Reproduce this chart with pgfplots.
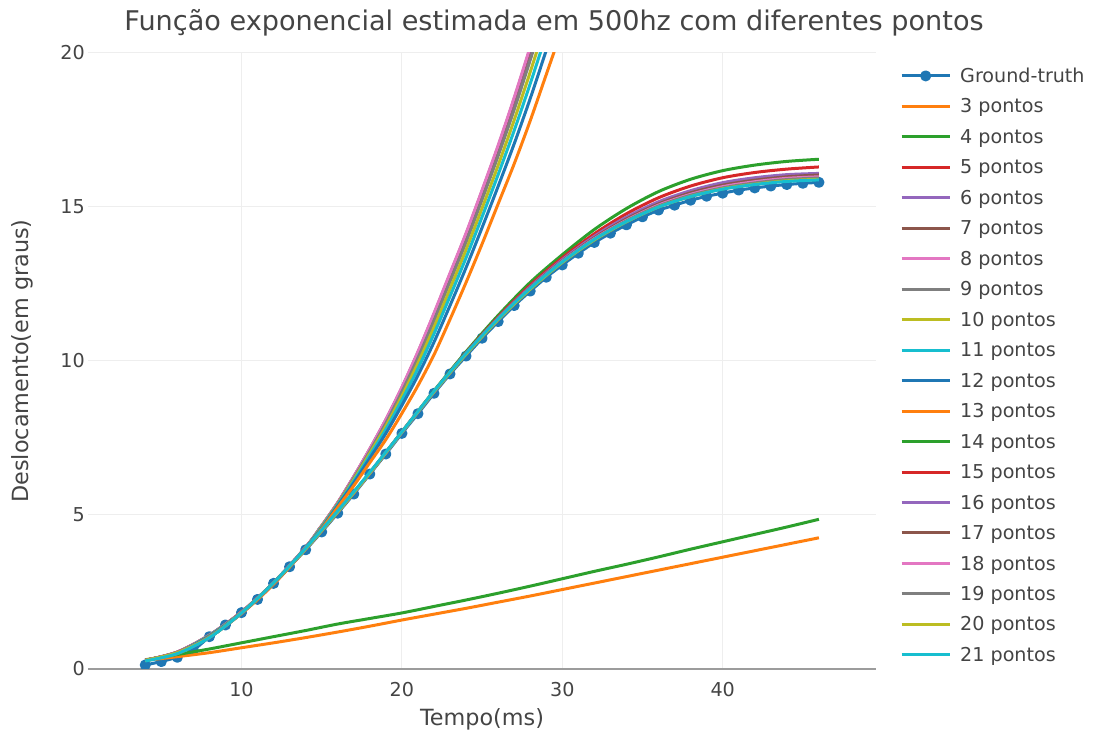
\documentclass[border=0pt]{standalone}
\usepackage{fontspec}
\setmainfont{DejaVu Sans}
\usepackage{pgfplots}
\pgfplotsset{compat=1.18}

\definecolor{c0}{HTML}{1F77B4}
\definecolor{c1}{HTML}{FF7F0E}
\definecolor{c2}{HTML}{2CA02C}
\definecolor{c3}{HTML}{D62728}
\definecolor{c4}{HTML}{9467BD}
\definecolor{c5}{HTML}{8C564B}
\definecolor{c6}{HTML}{E377C2}
\definecolor{c7}{HTML}{7F7F7F}
\definecolor{c8}{HTML}{BCBD22}
\definecolor{c9}{HTML}{17BECF}
\definecolor{txt}{HTML}{444444}
\definecolor{gridc}{HTML}{EEEEEE}
\definecolor{zeroc}{HTML}{9C9C9C}

\begin{document}
\begin{tikzpicture}
\useasboundingbox (0,0) rectangle (1094bp,733bp);
\begin{axis}[
  at={(88bp,64bp)}, anchor=south west,
  scale only axis, width=788bp, height=616bp,
  xmin=0.43, xmax=49.56, ymin=0, ymax=20,
  xtick={10,20,30,40}, ytick={5,10,15,20},
  extra y ticks={0},
  extra y tick style={grid=major, major grid style={draw=zeroc, line width=2.5bp}},
  grid=major,
  major grid style={draw=gridc, line width=1bp},
  axis line style={draw=none},
  major tick length=0pt, tick style={draw=none},
  clip marker paths=true,
  /pgf/number format/assume math mode=true,
  ticklabel style={font=\fontsize{19.2}{23}\selectfont, text=txt},
  xticklabel style={anchor=north, inner sep=0pt, yshift=-13bp},
  yticklabel style={anchor=east, inner sep=0pt, xshift=-3bp},
  title={Função exponencial estimada em 500hz com diferentes pontos},
  title style={at={(axis description cs:0.5914,1.0265)}, anchor=base,
    font=\fontsize{27.2}{32}\selectfont, text=txt},
  xlabel={Tempo(ms)},
  xlabel style={at={(axis description cs:0.5,-0.0914)}, anchor=base,
    font=\fontsize{22.4}{27}\selectfont, text=txt},
  ylabel={Deslocamento(em graus)},
  ylabel style={at={(axis description cs:-0.0758,0.5)}, anchor=base,
    font=\fontsize{22.4}{27}\selectfont, text=txt},
  legend style={at={(axis description cs:1,1)}, anchor=north west,
    xshift=24bp, yshift=-14.7bp, draw=none, fill=none, inner sep=0pt,
    row sep=14.47bp, column sep=9bp,
    font=\fontsize{19.2}{23}\selectfont, text=txt,
    cells={anchor=west},
    nodes={inner sep=0pt, text height=14.6bp, text depth=1.4bp}},
  legend image code/.code={\draw[mark repeat=2,mark phase=2,#1]
    plot coordinates {(0bp,0bp) (24bp,0bp) (48bp,0bp)};},
  every axis plot/.append style={line width=3bp, line join=round},
]

% Ground-truth, sampled every millisecond
\addplot[c0, mark=*, mark size=4bp, mark options={fill=c0, draw=none}] coordinates {
(4,0.13) (5,0.24) (6,0.38) (7,0.60) (8,1.05) (9,1.43) (10,1.83) (11,2.26)
(12,2.78) (13,3.32) (14,3.87) (15,4.45) (16,5.06) (17,5.68) (18,6.33) (19,6.98)
(20,7.65) (21,8.29) (22,8.95) (23,9.58) (24,10.16) (25,10.74) (26,11.28) (27,11.80)
(28,12.27) (29,12.72) (30,13.12) (31,13.50) (32,13.85) (33,14.15) (34,14.42) (35,14.68)
(36,14.90) (37,15.06) (38,15.22) (39,15.35) (40,15.45) (41,15.55) (42,15.62) (43,15.68)
(44,15.73) (45,15.77) (46,15.80)};
\addlegendentry{Ground-truth}

% 3 pontos
\addplot[c1, mark=none, smooth] coordinates {
(4,0.28) (6,0.40) (8,0.53) (10,0.69) (12,0.85) (14,1.02) (16,1.20) (18,1.39)
(20,1.59) (22,1.78) (24,1.97) (26,2.17) (28,2.37) (30,2.58) (32,2.79) (34,3.00)
(36,3.21) (38,3.42) (40,3.63) (42,3.84) (44,4.05) (46,4.26)};
\addlegendentry{3 pontos}

% 4 pontos
\addplot[c2, mark=none, smooth] coordinates {
(4,0.30) (6,0.47) (8,0.65) (10,0.85) (12,1.05) (14,1.25) (16,1.46) (18,1.64)
(20,1.82) (22,2.03) (24,2.24) (26,2.46) (28,2.69) (30,2.93) (32,3.17) (34,3.40)
(36,3.64) (38,3.89) (40,4.13) (42,4.37) (44,4.61) (46,4.86)};
\addlegendentry{4 pontos}

% 5 pontos
\addplot[c3, mark=none, smooth] coordinates {
(4,0.28) (6,0.55) (8,1.10) (10,1.85) (12,2.80) (14,3.95) (15,4.64) (16,5.39)
(17,6.23) (18,7.12) (19,8.06) (20,9.10) (21,10.23) (22,11.47) (23,12.76) (24,14.05)
(25,15.45) (26,16.89) (27,18.42) (28,20.06) (29,21.74)};
\addlegendentry{5 pontos}

% 6 pontos
\addplot[c4, mark=none, smooth] coordinates {
(4,0.28) (6,0.55) (8,1.10) (10,1.85) (12,2.80) (14,3.95) (15,4.65) (16,5.39)
(17,6.24) (18,7.13) (19,8.07) (20,9.12) (21,10.26) (22,11.50) (23,12.79) (24,14.09)
(25,15.48) (26,16.92) (27,18.46) (28,20.10) (29,21.80)};
\addlegendentry{6 pontos}

% 7 pontos
\addplot[c5, mark=none, smooth] coordinates {
(4,0.28) (6,0.55) (8,1.10) (10,1.85) (12,2.80) (14,3.95) (15,4.65) (16,5.40)
(17,6.24) (18,7.14) (19,8.09) (20,9.13) (21,10.28) (22,11.52) (23,12.82) (24,14.12)
(25,15.52) (26,16.96) (27,18.51) (28,20.15) (29,21.85)};
\addlegendentry{7 pontos}

% 8 pontos
\addplot[c6, mark=none, smooth] coordinates {
(4,0.28) (6,0.55) (8,1.10) (10,1.85) (12,2.80) (14,3.95) (15,4.65) (16,5.40)
(17,6.25) (18,7.15) (19,8.10) (20,9.15) (21,10.30) (22,11.55) (23,12.85) (24,14.15)
(25,15.55) (26,17.00) (27,18.55) (28,20.20) (29,21.90)};
\addlegendentry{8 pontos}

% 9 pontos
\addplot[c7, mark=none, smooth] coordinates {
(4,0.28) (6,0.54) (8,1.09) (10,1.84) (12,2.79) (14,3.94) (15,4.63) (16,5.37)
(17,6.20) (18,7.07) (19,7.98) (20,9.00) (21,10.10) (22,11.31) (23,12.58) (24,13.86)
(25,15.24) (26,16.66) (27,18.16) (28,19.77) (29,21.43)};
\addlegendentry{9 pontos}

% 10 pontos
\addplot[c8, mark=none, smooth] coordinates {
(4,0.28) (6,0.53) (8,1.08) (10,1.83) (12,2.78) (14,3.93) (15,4.62) (16,5.35)
(17,6.15) (18,7.00) (19,7.88) (20,8.86) (21,9.93) (22,11.09) (23,12.34) (24,13.61)
(25,14.96) (26,16.35) (27,17.82) (28,19.38) (29,21.02)};
\addlegendentry{10 pontos}

% 11 pontos
\addplot[c9, mark=none, smooth] coordinates {
(4,0.28) (6,0.53) (8,1.08) (10,1.83) (12,2.78) (14,3.93) (15,4.60) (16,5.33)
(17,6.10) (18,6.93) (19,7.78) (20,8.73) (21,9.75) (22,10.88) (23,12.10) (24,13.35)
(25,14.68) (26,16.05) (27,17.48) (28,19.00) (29,20.60)};
\addlegendentry{11 pontos}

% 12 pontos
\addplot[c0, mark=none, smooth] coordinates {
(4,0.28) (6,0.52) (8,1.07) (10,1.82) (12,2.77) (14,3.92) (15,4.58) (16,5.30)
(17,6.04) (18,6.84) (19,7.65) (20,8.56) (21,9.53) (22,10.61) (23,11.80) (24,13.03)
(25,14.33) (26,15.67) (27,17.05) (28,18.52) (29,20.08) (30,21.60)};
\addlegendentry{12 pontos}

% 13 pontos
\addplot[c1, mark=none, smooth] coordinates {
(4,0.28) (6,0.50) (8,1.05) (10,1.80) (12,2.75) (14,3.90) (15,4.55) (16,5.25)
(17,5.95) (18,6.70) (19,7.45) (20,8.30) (21,9.20) (22,10.20) (23,11.35) (24,12.55)
(25,13.80) (26,15.10) (27,16.40) (28,17.80) (29,19.30) (30,20.80)};
\addlegendentry{13 pontos}

% 14 pontos
\addplot[c2, mark=none, smooth] coordinates {
(4,0.28) (6,0.53) (8,1.03) (10,1.82) (12,2.79) (14,3.90) (16,5.10) (18,6.37)
(20,7.70) (22,9.03) (24,10.30) (26,11.48) (28,12.55) (30,13.45) (32,14.27) (34,14.95)
(36,15.50) (38,15.90) (40,16.18) (42,16.36) (44,16.48) (46,16.55)};
\addlegendentry{14 pontos}

% 15 pontos
\addplot[c3, mark=none, smooth] coordinates {
(4,0.28) (6,0.53) (8,1.03) (10,1.82) (12,2.79) (14,3.90) (16,5.10) (18,6.36)
(20,7.70) (22,9.01) (24,10.27) (26,11.42) (28,12.46) (30,13.35) (32,14.13) (34,14.78)
(36,15.30) (38,15.68) (40,15.95) (42,16.12) (44,16.23) (46,16.30)};
\addlegendentry{15 pontos}

% 16 pontos
\addplot[c4, mark=none, smooth] coordinates {
(4,0.28) (6,0.53) (8,1.03) (10,1.82) (12,2.79) (14,3.90) (16,5.10) (18,6.36)
(20,7.69) (22,9.00) (24,10.25) (26,11.39) (28,12.41) (30,13.29) (32,14.05) (34,14.67)
(36,15.17) (38,15.53) (40,15.79) (42,15.95) (44,16.05) (46,16.09)};
\addlegendentry{16 pontos}

% 17 pontos
\addplot[c5, mark=none, smooth] coordinates {
(4,0.28) (6,0.53) (8,1.03) (10,1.82) (12,2.79) (14,3.90) (16,5.10) (18,6.36)
(20,7.69) (22,9.00) (24,10.24) (26,11.37) (28,12.38) (30,13.25) (32,14.00) (34,14.61)
(36,15.10) (38,15.46) (40,15.71) (42,15.87) (44,15.98) (46,16.04)};
\addlegendentry{17 pontos}

% 18 pontos
\addplot[c6, mark=none, smooth] coordinates {
(4,0.28) (6,0.53) (8,1.03) (10,1.82) (12,2.79) (14,3.90) (16,5.10) (18,6.36)
(20,7.69) (22,9.00) (24,10.23) (26,11.36) (28,12.36) (30,13.23) (32,13.97) (34,14.57)
(36,15.06) (38,15.41) (40,15.66) (42,15.82) (44,15.93) (46,15.98)};
\addlegendentry{18 pontos}

% 19 pontos
\addplot[c7, mark=none, smooth] coordinates {
(4,0.28) (6,0.53) (8,1.03) (10,1.82) (12,2.79) (14,3.90) (16,5.10) (18,6.36)
(20,7.69) (22,9.00) (24,10.23) (26,11.35) (28,12.35) (30,13.21) (32,13.95) (34,14.55)
(36,15.03) (38,15.38) (40,15.62) (42,15.78) (44,15.89) (46,15.94)};
\addlegendentry{19 pontos}

% 20 pontos
\addplot[c8, mark=none, smooth] coordinates {
(4,0.28) (6,0.53) (8,1.03) (10,1.82) (12,2.79) (14,3.90) (16,5.10) (18,6.36)
(20,7.69) (22,9.00) (24,10.22) (26,11.34) (28,12.33) (30,13.20) (32,13.93) (34,14.52)
(36,15.00) (38,15.34) (40,15.59) (42,15.74) (44,15.85) (46,15.90)};
\addlegendentry{20 pontos}

% 21 pontos
\addplot[c9, mark=none, smooth] coordinates {
(4,0.26) (6,0.50) (8,1.02) (10,1.82) (12,2.80) (14,3.92) (16,5.13) (18,6.39)
(20,7.70) (22,9.02) (24,10.25) (26,11.37) (28,12.36) (30,13.22) (32,13.95) (34,14.53)
(36,15.00) (38,15.34) (40,15.58) (42,15.73) (44,15.83) (46,15.88)};
\addlegendentry{21 pontos}

\end{axis}
\end{tikzpicture}
\end{document}
